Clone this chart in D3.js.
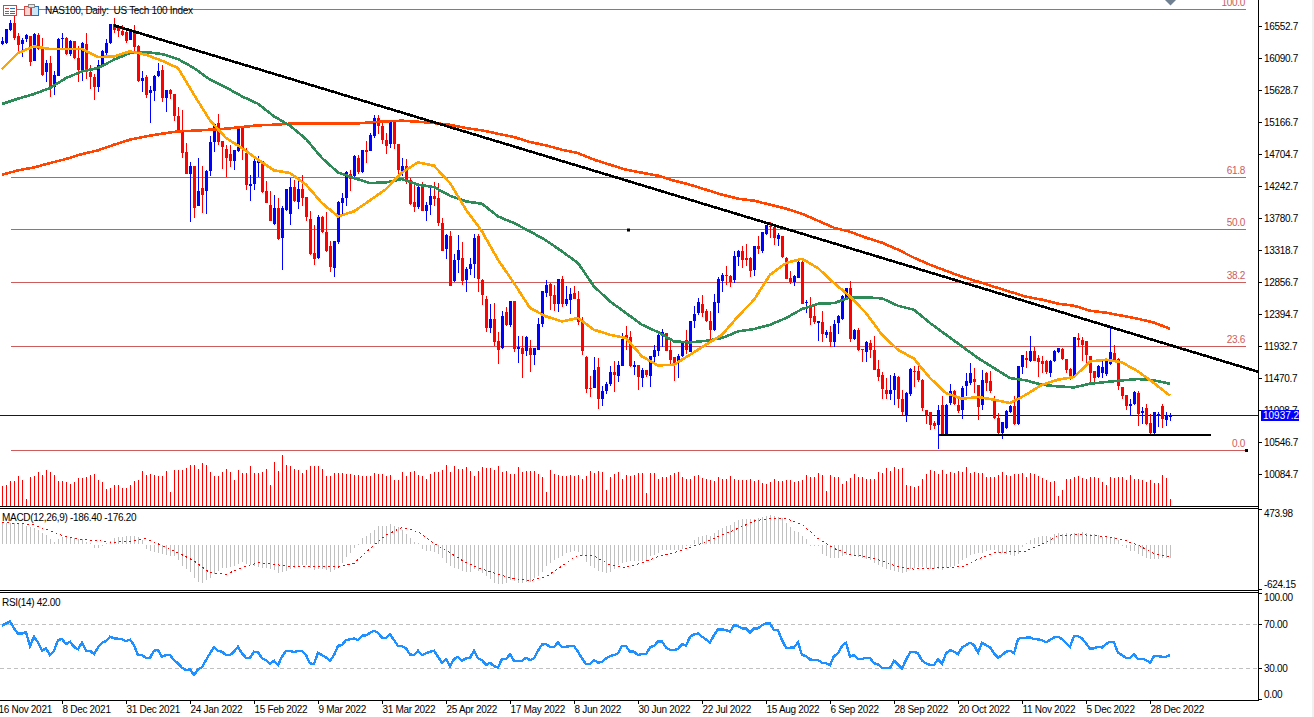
<!DOCTYPE html>
<html>
<head>
<meta charset="utf-8">
<title>NAS100, Daily</title>
<script src="https://cdn.jsdelivr.net/npm/d3@7"></script>
<style>
  html, body { margin: 0; padding: 0; background: #fff; overflow: hidden; }
  svg { display: block; }
  text { font-family: "Liberation Sans", Arial, sans-serif; font-size: 10px; letter-spacing: -0.3px; fill: #000; }
  .axis path { display: none; }
  .axis line { stroke: #000; }
  .line-mark { shape-rendering: crispEdges; fill: none; }
</style>
</head>
<body>
<div id="chart"></div>
<script>
// Daily candles, one entry per bar
const opens = [
  16293,16317,16510,16606,16423,16308,16366,16423,16053,16438,
  16245,15894,16029,15682,15846,16380,16390,16149,16341,16101,
  15932,16308,15894,15826,15682,16005,16173,16317,16597,16558,
  16495,16476,16366,16510,16269,15774,15826,15605,15634,15836,
  15923,15523,15634,15581,15268,15052,14744,14426,14537,13969,
  14224,14176,14474,14888,15162,14898,14792,14720,14619,14753,
  15090,14729,14262,14272,14585,14619,14185,13983,13704,13935,
  13502,13911,13853,14238,14031,14209,14089,13781,13285,13203,
  13800,13588,13391,13078,13444,14007,14070,14426,14392,14657,
  14455,14777,14768,14979,15234,15114,14921,14849,15172,14864,
  14479,14546,14344,14017,13949,14238,13896,13969,14113,14084,
  13718,13333,13536,12886,13189,13213,12900,13054,13126,13526,
  12891,12626,12207,12337,12010,11914,12429,12236,12587,11890,
  11914,11866,11914,11808,11890,12251,12708,12838,12674,12549,
  12915,12554,12611,12708,12626,12313,11784,11341,11336,11635,
  11167,11302,11384,11562,11514,11658,12106,12067,11649,11673,
  11490,11601,11514,11783,11880,12082,12130,11889,11779,11707,
  11793,12034,11865,12308,12409,12549,12443,12298,12168,12563,
  12886,12972,12958,12900,13237,13319,13213,13213,13030,13381,
  13309,13559,13670,13660,13478,13526,13213,12924,12866,12929,
  13155,12553,12525,12371,12265,12289,12106,12149,12000,12265,
  12332,12635,12780,12043,12178,11899,11851,11986,11889,11610,
  11528,11312,11254,11302,11490,11182,10951,11254,11587,11587,
  11447,11023,10990,10831,10807,11096,10677,11120,11298,11096,
  11023,11360,11408,11471,11384,11096,11553,11433,11168,10903,
  10687,10749,10990,11072,10817,11649,11769,11736,11875,11769,
  11731,11721,11563,11721,11851,11899,11760,11615,11505,12058,
  12034,12010,11803,11577,11495,11553,11538,11683,11842,11755,
  11351,11240,11086,11096,11264,10966,11048,10831,10687,10951,11072,10865,10918
];
const closes = [
  16341,16524,16606,16390,16293,16366,16428,16053,16447,16236,
  15860,16029,15682,15855,16380,16390,16163,16341,16101,15932,
  16317,15908,15826,15682,16005,16207,16317,16597,16510,16486,
  16438,16341,16510,16269,15764,15817,15571,15644,15846,15908,
  15514,15644,15571,15259,15052,14739,14426,14546,13926,14185,
  14128,14465,14888,15153,14883,14811,14667,14619,14777,15090,
  14801,14272,14286,14609,14633,14176,14017,13752,13935,13488,
  13935,14214,14238,14031,14214,14079,13800,13276,13203,13800,
  13584,13319,13093,13463,14017,14074,14450,14354,14681,14455,
  14777,14753,14994,15234,15114,14907,14840,15172,14849,14488,
  14546,14344,13997,13949,14238,13896,13983,14103,14070,13728,
  13319,13540,12814,13189,13333,12886,13054,13131,13502,12900,
  12674,12202,12337,12010,11880,12380,12236,12587,11890,11923,
  11832,12068,11808,11914,12265,12732,12828,12660,12539,12915,
  12554,12626,12698,12626,12299,11866,11326,11331,11601,11168,
  11288,11399,11562,11519,11673,12048,12048,11649,11673,11495,
  11601,11528,11803,11889,12106,12144,11875,11745,11697,11793,
  11986,11889,12308,12404,12573,12419,12298,12168,12573,12914,
  12972,12958,12876,13246,13319,13189,13189,13030,13381,13333,
  13583,13684,13656,13502,13540,13227,12914,12866,12958,13155,
  12553,12573,12356,12289,12298,12120,12149,12010,12265,12371,
  12669,12780,12043,12178,11889,11880,11995,11880,11601,11495,
  11322,11254,11312,11504,11177,10990,11264,11611,11577,11457,
  11038,10951,10807,10783,11023,10672,11096,11288,11105,11014,
  11336,11433,11553,11423,11072,11457,11408,11288,10903,10687,
  10850,11000,11072,10807,11659,11818,11736,11875,11736,11707,
  11688,11563,11731,11866,11914,11760,11601,11495,12068,12025,
  11962,11803,11563,11481,11649,11639,11721,11851,11745,11360,
  11216,11081,11110,11274,10966,11000,10821,10687,10985,10966,10879,10927,10937
];
const highs = [
  16404,16524,16645,16726,16462,16390,16452,16423,16462,16462,
  16390,16077,16135,15908,16390,16462,16404,16356,16341,16269,
  16327,16462,16005,15875,16077,16221,16375,16597,16678,16582,
  16582,16486,16520,16582,16293,15918,15860,15701,15860,16029,
  16005,15644,15658,15581,15393,15355,14874,14599,14537,14657,
  14537,14479,14970,15153,15292,14898,14850,14840,14777,15090,
  15090,14801,14416,14657,14691,14619,14320,14176,14128,14079,
  13959,14214,14368,14344,14320,14416,14089,13896,13685,13839,
  13815,13877,13463,13463,14041,14151,14474,14488,14705,14705,
  14777,14897,15018,15282,15273,15172,15018,15201,15201,14864,
  14657,14647,14368,14272,14262,14305,14017,14224,14310,14296,
  13791,13560,13598,13271,13550,13444,13078,13213,13560,13560,
  12910,12660,12554,12563,12145,12443,12506,12597,12597,12092,
  12092,12092,12034,11914,12347,12741,12900,12852,12828,12915,
  12958,12804,12780,12804,12741,12361,11793,11505,11779,11769,
  11370,11418,11658,11731,11731,12130,12236,12154,11731,11673,
  11625,11601,11803,11962,12130,12188,12130,12010,11783,11832,
  12010,12178,12308,12515,12635,12683,12481,12443,12693,12938,
  12996,13102,12972,13319,13333,13381,13420,13227,13391,13526,
  13583,13694,13733,13670,13574,13526,13222,13020,12972,13165,
  13165,12611,12645,12515,12298,12443,12178,12236,12313,12395,
  12683,12780,12886,12188,12202,11899,12010,12034,12082,11745,
  11562,11480,11528,11553,11504,11312,11274,11625,11659,11688,
  11466,11023,10990,10855,11096,11216,11105,11399,11312,11216,
  11360,11553,11697,11625,11384,11601,11563,11577,11216,10975,
  10850,11014,11096,11216,11659,11818,11875,12092,11928,11818,
  11793,11736,11745,11880,11914,11914,11760,11625,12068,12130,
  12068,12010,11803,11577,11673,11745,11745,12217,11962,11769,
  11351,11240,11177,11288,11288,11062,11110,10966,10995,10985,11110,10990,10975
];
const lows = [
  16284,16308,16486,16366,16173,16110,16341,15995,16053,16221,
  15846,15764,15547,15557,15836,16245,16149,16125,16077,15750,
  15764,15798,15658,15499,15620,15980,16149,16308,16462,16414,
  16423,16317,16356,16197,15754,15620,15523,15172,15490,15826,
  15475,15331,15514,15186,15052,14667,14426,13728,13791,13959,
  13863,13839,14392,14753,14850,14489,14392,14522,14489,14744,
  14633,14200,14041,14200,14392,14152,14007,13743,13695,13478,
  13035,13901,13695,14022,13911,13969,13742,13261,13107,13199,
  13574,13295,13021,12948,13420,13839,13969,14185,14382,14431,
  14440,14575,14753,14946,15003,14849,14719,14792,14777,14368,
  14402,14286,13983,13887,13920,13887,13742,13839,13959,13670,
  13309,13199,12804,12862,13006,12828,12717,12972,12924,12717,
  12530,12140,12130,11947,11687,11899,12226,12226,11866,11697,
  11490,11803,11577,11673,11880,12217,12660,12458,12458,12443,
  12506,12515,12409,12611,12251,11817,11254,11206,11326,11038,
  11081,11240,11374,11288,11432,11649,11889,11634,11528,11312,
  11350,11504,11360,11721,11793,11928,11865,11673,11442,11480,
  11783,11832,11856,12202,12395,12361,12289,12043,12159,12419,
  12722,12828,12794,12852,13107,13068,13107,12938,12958,13261,
  13285,13550,13502,13391,13391,13213,12900,12828,12813,12914,
  12544,12419,12241,12260,12010,11995,12058,11937,11923,12120,
  12323,12621,12010,12034,11865,11707,11711,11769,11591,11442,
  11167,11182,11167,11086,11038,10951,10841,11226,11360,11433,
  10999,10821,10735,10735,10456,10663,10672,11096,11096,10966,
  10889,11226,11384,11264,10879,11023,11288,11264,10889,10677,
  10605,10744,10975,10792,10807,11543,11625,11721,11731,11495,
  11553,11529,11505,11707,11842,11745,11553,11447,11495,11928,
  11721,11649,11418,11408,11481,11481,11519,11673,11721,11312,
  11177,11023,10946,11081,10783,10821,10812,10663,10677,10773,10759,10783,10855
];

// Moving averages, read every 4th bar
const maStep = 4;
const maFast = [
  15942,16173,16269,16231,16231,16231,16115,16125,16197,16149,16062,15956,15571,15201,14946,14801,14633,14479,14440,
  14272,14007,13815,13887,14046,14209,14450,14594,14546,14296,13911,13598,13189,12852,12491,12371,12299,12347,12178,
  12106,12058,11793,11663,11673,11817,11962,12106,12371,12611,12972,13141,13203,13068,12852,12659,12419,12106,11889,
  11760,11481,11264,11182,11206,11168,11120,11240,11384,11457,11495,11721,11745,11707,11577,11408,11226
];
const maMid = [
  15437,15514,15581,15668,15812,15908,15956,16077,16173,16187,16159,16086,15956,15788,15677,15547,15441,15259,15124,
  14931,14657,14450,14368,14296,14305,14354,14272,14238,14113,14031,13997,13815,13718,13598,13468,13309,13141,12804,
  12587,12419,12250,12144,12010,11995,12019,12058,12154,12188,12250,12347,12477,12553,12563,12645,12645,12631,12525,
  12467,12275,12106,11938,11769,11625,11481,11447,11384,11360,11346,11399,11423,11447,11466,11447,11399
];
const maSlow = [
  14416,14479,14522,14585,14643,14715,14768,14850,14922,14970,15008,15042,15052,15066,15081,15105,15129,15138,15153,
  15157,15153,15153,15153,15172,15186,15196,15181,15162,15138,15090,15056,15008,14960,14888,14840,14777,14729,14633,
  14561,14489,14445,14402,14330,14272,14200,14128,14070,14041,13983,13926,13853,13752,13651,13593,13507,13435,13334,
  13218,13117,13030,12944,12872,12799,12727,12655,12612,12554,12525,12453,12424,12381,12337,12280,12193
];

// Tick volume, same bars as the candles
const volumes = [
  61,64,76,74,89,79,22,86,91,102,94,107,102,94,74,76,71,65,71,85,
  84,88,94,97,77,71,52,54,64,62,53,54,64,76,79,106,94,97,94,89,
  89,106,41,107,109,107,114,123,123,112,130,122,103,89,91,102,112,102,79,107,
  99,99,121,99,99,102,111,64,133,106,152,124,121,111,109,99,109,121,121,121,
  111,89,89,99,99,99,96,96,94,94,91,91,91,99,96,96,91,94,79,79,
  101,91,101,106,94,89,82,97,103,101,109,124,102,121,112,112,118,106,91,106,
  118,115,115,109,121,103,106,97,97,118,103,106,106,106,97,88,43,109,97,94,
  91,91,94,91,94,82,91,106,100,106,103,49,88,97,103,82,94,91,94,100,
  100,40,100,100,82,88,88,94,100,103,88,82,82,91,94,85,82,79,76,88,
  82,82,91,82,79,79,79,82,76,79,70,67,73,82,76,76,79,79,73,76,
  79,94,88,88,100,94,46,94,88,88,67,76,85,97,88,88,82,82,82,103,
  100,115,106,118,112,115,64,61,58,61,82,97,109,106,97,109,97,103,100,106,
  103,118,100,103,100,100,88,88,88,94,103,94,91,97,97,100,88,100,97,91,
  85,79,73,76,31,49,82,82,88,91,85,82,88,88,85,73,64,88,85,88,
  88,79,94,82,82,79,73,79,70,70,94,85,22
];

// MACD(12,26,9) histogram per bar, signal every 4th bar
const macdHist = [
  287,287,287,287,278,268,241,223,209,187,150,118,64,27,64,86,96,82,73,68,
  59,27,14,-41,-50,-18,5,36,73,86,96,105,105,105,86,50,-64,-86,-96,-109,
  -132,-141,-155,-155,-214,-291,-337,-369,-460,-505,-519,-487,-450,-405,-359,-323,-314,-305,-291,-259,
  -232,-259,-278,-291,-305,-314,-323,-337,-350,-382,-369,-359,-328,-314,-305,-278,-278,-314,-350,-337,
  -337,-350,-369,-350,-323,-246,-168,-109,-41,0,73,105,150,187,241,241,246,268,241,223,
  187,132,82,27,5,-64,-86,-86,-96,-132,-187,-246,-291,-314,-337,-359,-369,-369,-337,-359,
  -382,-428,-464,-519,-541,-532,-519,-487,-496,-519,-519,-505,-505,-460,-428,-369,-291,-246,-214,-177,
  -155,-109,-96,-86,-96,-155,-232,-291,-314,-359,-369,-382,-369,-337,-278,-246,-232,-223,-223,-223,
  -223,-214,-155,-141,-109,-77,-77,-77,-77,-77,-64,-5,-5,50,96,105,118,105,141,187,
  209,241,255,300,323,332,337,332,337,355,369,378,391,378,369,346,287,223,177,164,
  105,59,-5,-5,-9,-132,-155,-187,-187,-177,-155,-141,-141,-141,-168,-177,-200,-214,-246,-278,
  -305,-337,-350,-359,-369,-391,-369,-337,-314,-305,-305,-314,-337,-337,-337,-350,-314,-305,-291,-268,
  -214,-177,-141,-132,-109,-109,-86,-77,-77,-109,-109,-132,-141,-155,-132,-32,14,50,82,96,
  105,105,96,127,150,127,141,132,141,141,159,141,132,127,118,96,96,86,86,50,
  -5,-50,-86,-86,-132,-155,-187,-200,-200,-200,-187,-187,-186.4
];
const macdSignal = [
  287,278,255,177,96,55,41,18,36,68,-23,-123,-232,-396,-419,-323,-259,-278,-314,-314,-305,-319,-268,-64,118,
  223,164,5,-123,-259,-346,-419,-473,-505,-450,-305,-155,-164,-291,-323,-259,-177,-123,-50,27,118,209,309,346,346,
  264,73,-64,-146,-177,-232,-314,-346,-337,-323,-314,-209,-123,-109,-100,-5,105,123,118,96,59,-18,-132,-176.2
];

// RSI(14) per bar
const rsi = [
  68.7,70.8,72.6,66.3,61.4,61.7,62.9,50.2,58.7,53.6,46,48.1,42,46,55.7,56.6,52,54.2,49.6,47.2,
  53.3,46,46,42.9,49,53.3,54.8,58.7,57.2,56.9,56.3,54.8,56,51.1,42,42,39.6,39.6,46,46.6,
  40.5,42,42,37.5,34.5,30.5,28.4,29,23.9,29,30.8,37.5,43.6,49,46,45.1,42,42,45.1,49.6,
  43.6,39.6,39.6,45.1,44.8,39,37.5,33.9,36.9,33,40.5,46,46,44.5,46,46,42,34.5,33.9,44.2,
  42,39.9,36.6,42,50.5,51.1,55.7,56.3,57.2,55.7,59.6,59.9,62.3,64.2,62.3,57.8,57.8,60.8,55.7,50.2,
  50.2,48.1,42.6,42,46,42,43.6,45.1,46,40.5,35.1,38.4,32,38.4,40.5,36.9,39,39.6,46,39,
  37.5,33,35.1,32,30.8,38.4,38.4,42.9,36.9,36.9,36.9,39.6,37.5,39,46,51.7,52,49.6,49.6,53.3,
  49.6,49.6,50.2,50.2,45.1,39,33.9,33.9,37.5,35.1,36,39,41.1,42,43.6,50.5,50.2,45.1,45.1,42,
  42.9,42.9,49,50.5,54.2,54.2,49,46.6,46.6,47.5,52,50.5,58.7,60.8,61.7,58.7,56.3,53.3,60.2,65.4,
  65.4,64.8,63.3,69.3,68.4,66.3,66.3,62.3,66.3,66.3,69.3,70.8,70.8,64.8,64.8,55.7,48.7,48.7,49,53.6,
  42,41.1,38.1,37.5,37.5,35.1,34.5,33,41.1,43.6,50.2,53.3,40.5,42,38.4,38.4,39.6,39.6,34.5,33.6,
  30.2,30.2,30.2,36.9,33.6,29.9,37.5,44.5,45.1,43.6,36.9,34.5,33,33,38.4,33.9,43.6,46.6,45.1,42.9,
  49,51.1,53.3,51.1,44.2,53.3,51.1,49,43.6,39.6,42,45.1,46,43.6,56.6,57.8,57.8,58.1,56.6,56.3,
  55.7,53.6,55.7,58.1,58.7,56.6,52.7,49.6,59.3,59.3,57.2,52.7,47.8,48.1,49.6,49,52,54.2,53.6,44.2,
  42,39.6,39.6,42.9,38.4,38.7,37.5,35.1,41.1,41.1,40.5,40.5,42
];

// Labels and levels
const priceTicks = [16552.7,16090.7,15628.7,15166.7,14704.7,14242.7,13780.7,13318.7,12856.7,12394.7,11932.7,11470.7,11008.7,10546.7,10084.7];
const dateLabels = ['16 Nov 2021','8 Dec 2021','31 Dec 2021','24 Jan 2022','15 Feb 2022','9 Mar 2022','31 Mar 2022','25 Apr 2022','17 May 2022','8 Jun 2022','30 Jun 2022','22 Jul 2022','15 Aug 2022','6 Sep 2022','28 Sep 2022','20 Oct 2022','11 Nov 2022','5 Dec 2022','28 Dec 2022'];
const fibLevels = [100, 61.8, 50, 38.2, 23.6, 0];
const fibHigh = 16809, fibLow = 10442;
const lastPrice = 10937.2;
const macdTicks = [473.98, -624.15];
const rsiTicks = [100, 70, 30, 0];
const rsiGuides = [70, 30];
// [bar, price] pairs of the hand drawn lines
const trendLine = [[28, 16572], [314, 11572]];
const supportLine = [[234.25, 10663], [302.25, 10663]];
const fibAnchors = [[156.5, 13625], [311, 10442]];

document.addEventListener('DOMContentLoaded', function() {
    const width = 1314, height = 717, plotRight = 1258;

    const svg = d3.select('#chart').append('svg')
        .attr('width', width)
        .attr('height', height);

    // Scales, one for bars and one for each pane
    const xBar = d3.scaleLinear().domain([0, 292]).range([2, 1170]);
    const yPrice = d3.scaleLinear().domain([16943, 10442]).range([-0.3, 450]);
    const yVolume = d3.scaleLinear().domain([0, 152]).range([506, 455.3]);
    const yMacd = d3.scaleLinear().domain([473.98, -624.15]).range([509, 589.5]);
    const yRsi = d3.scaleLinear().domain([100, 0]).range([591.3, 701.3]);

    // Clip marks to the plot area
    svg.append('clipPath').attr('id', 'plot-clip')
        .append('rect').attr('x', 0).attr('y', 0).attr('width', plotRight).attr('height', 700);
    const plot = svg.append('g').attr('clip-path', 'url(#plot-clip)');

    // Light window edge on the right
    svg.append('rect').attr('x', 1312).attr('y', 0).attr('width', 2).attr('height', height).attr('fill', '#f0f0f0');

    // Fibonacci levels
    const fibY = f => Math.round(yPrice(fibLow + (fibHigh - fibLow) * f / 100));
    plot.selectAll('.fib').data(fibLevels).enter().append('rect')
        .attr('class', 'fib')
        .attr('x', 11).attr('width', 1235)
        .attr('y', d => fibY(d)).attr('height', 1)
        .attr('fill', '#cd5c5c');
    plot.selectAll('.fib-label').data(fibLevels).enter().append('text')
        .attr('class', 'fib-label')
        .attr('x', 1245).attr('y', d => fibY(d) - 3)
        .attr('text-anchor', 'end')
        .style('fill', '#cd5c5c')
        .text(d => d.toFixed(1));
    plot.selectAll('.fib-anchor').data(fibAnchors).enter().append('rect')
        .attr('class', 'fib-anchor')
        .attr('x', d => xBar(d[0]) - 1).attr('y', d => yPrice(d[1]) - 1)
        .attr('width', 3).attr('height', 3)
        .attr('fill', '#000');

    // Last price line
    plot.append('rect')
        .attr('x', 0).attr('width', plotRight)
        .attr('y', Math.floor(yPrice(lastPrice))).attr('height', 1)
        .attr('fill', '#0000e0');

    // Candles
    const bars = d3.range(opens.length);
    const candleColor = i => closes[i] >= opens[i] ? '#0000ff' : '#ff0000';
    const candles = plot.append('g').attr('shape-rendering', 'crispEdges');
    candles.selectAll('.wick').data(bars).enter().append('rect')
        .attr('class', 'wick')
        .attr('x', i => xBar(i)).attr('width', 1)
        .attr('y', i => Math.round(yPrice(highs[i])))
        .attr('height', i => Math.max(1, Math.round(yPrice(lows[i]) - yPrice(highs[i]))))
        .attr('fill', candleColor);
    candles.selectAll('.body').data(bars).enter().append('rect')
        .attr('class', 'body')
        .attr('x', i => xBar(i) - 1).attr('width', 3)
        .attr('y', i => Math.round(yPrice(Math.max(opens[i], closes[i]))))
        .attr('height', i => Math.max(1, Math.round(Math.abs(yPrice(opens[i]) - yPrice(closes[i])))))
        .attr('fill', candleColor);

    // Moving averages and the drawn lines
    const maLine = d3.line().x((d, i) => xBar(i * maStep)).y(d => yPrice(d));
    const pointLine = d3.line().x(d => xBar(d[0])).y(d => yPrice(d[1]));
    [[maSlow, '#ff4500'], [maMid, '#2e8b57'], [maFast, '#ffa500']].forEach(([values, color]) => {
        plot.append('path').attr('class', 'line-mark').attr('d', maLine(values))
            .attr('stroke', color).attr('stroke-width', 2.6);
    });
    plot.append('path').attr('class', 'line-mark').attr('d', pointLine(trendLine))
        .attr('stroke', '#000').attr('stroke-width', 2.6);
    plot.append('path').attr('class', 'line-mark').attr('d', pointLine(supportLine))
        .attr('stroke', '#000').attr('stroke-width', 2);

    // Volume bars
    plot.append('g').attr('shape-rendering', 'crispEdges')
        .selectAll('rect').data(volumes).enter().append('rect')
        .attr('x', (d, i) => xBar(i)).attr('width', 1)
        .attr('y', d => Math.round(yVolume(d)))
        .attr('height', d => 506 - Math.round(yVolume(d)))
        .attr('fill', '#ff0000');

    // Marker at the top of the last bar
    plot.append('path')
        .attr('d', d3.line()([[xBar(292) - 5, 0], [xBar(292) + 6, 0], [xBar(292) + 0.5, 5.5]]))
        .attr('fill', '#708090');

    // MACD pane
    const macdZero = Math.round(yMacd(0));
    plot.append('g').attr('shape-rendering', 'crispEdges')
        .selectAll('rect').data(macdHist).enter().append('rect')
        .attr('x', (d, i) => xBar(i)).attr('width', 1)
        .attr('y', d => d >= 0 ? Math.round(yMacd(d)) : macdZero + 1)
        .attr('height', d => Math.max(1, Math.abs(Math.round(yMacd(d)) - macdZero)))
        .attr('fill', '#c0c0c0');
    plot.append('path').attr('class', 'line-mark')
        .attr('d', d3.line().x((d, i) => xBar(i * maStep)).y(d => yMacd(d))(macdSignal))
        .attr('stroke', '#ff0000').attr('stroke-width', 1)
        .attr('stroke-dasharray', '2,3');

    // RSI pane
    plot.selectAll('.rsi-guide').data(rsiGuides).enter().append('line')
        .attr('class', 'rsi-guide')
        .attr('x1', 0).attr('x2', plotRight)
        .attr('y1', d => Math.floor(yRsi(d)) + 0.5).attr('y2', d => Math.floor(yRsi(d)) + 0.5)
        .attr('stroke', '#c0c0c0').attr('stroke-dasharray', '4,3');
    plot.append('path').attr('class', 'line-mark')
        .attr('d', d3.line().x((d, i) => xBar(i)).y(d => yRsi(d))(rsi))
        .attr('stroke', '#1e90ff').attr('stroke-width', 2.4);

    // Pane borders
    const frame = svg.append('g').attr('shape-rendering', 'crispEdges');
    [506, 508, 590, 592, 700].forEach(y => {
        frame.append('rect').attr('x', 0).attr('y', y).attr('width', plotRight).attr('height', 1).attr('fill', '#000');
    });
    frame.append('rect').attr('x', plotRight).attr('y', 0).attr('width', 1).attr('height', 701).attr('fill', '#000');

    // Right hand axes. Ticks are snapped to whole pixels, pane end labels are pulled inside
    function rightAxis(scale, values, format, tickClamp, labelClamp) {
        const g = svg.append('g')
            .attr('class', 'axis')
            .attr('transform', `translate(${plotRight},0)`)
            .call(d3.axisRight(scale).tickValues(values).tickFormat(format).tickSize(4).tickPadding(2));
        g.selectAll('.tick').attr('transform', d => {
            const y = Math.max(tickClamp[0], Math.min(tickClamp[1], Math.floor(scale(d))));
            return `translate(0,${y + 0.5})`;
        });
        g.selectAll('.tick text').attr('y', d => {
            const y = Math.max(tickClamp[0], Math.min(tickClamp[1], Math.floor(scale(d))));
            const labelY = Math.max(labelClamp[0], Math.min(labelClamp[1], y));
            return labelY - y;
        });
        return g;
    }
    rightAxis(yPrice, priceTicks, d => d.toFixed(1), [0, 505], [0, 505]);
    rightAxis(yMacd, macdTicks, d => d.toFixed(2), [509, 589], [513, 584]);
    rightAxis(yRsi, rsiTicks, d => d.toFixed(2), [593, 699], [597, 694]);

    // Last price tag
    const tagY = Math.floor(yPrice(lastPrice));
    svg.append('rect').attr('x', 1261).attr('y', tagY - 5).attr('width', 38).attr('height', 11).attr('fill', '#0000ff');
    svg.append('text').attr('x', 1263).attr('y', tagY + 4)
        .style('fill', '#fff').style('letter-spacing', '0')
        .text(lastPrice.toFixed(1));

    // Date axis, a label every 16 bars
    const dateBars = dateLabels.map((d, i) => 16 * i - 1);
    const dateAxis = svg.append('g')
        .attr('class', 'axis date-axis')
        .attr('transform', 'translate(0,700)')
        .call(d3.axisBottom(xBar).tickValues(dateBars)
            .tickFormat((d, i) => dateLabels[i]).tickSize(4).tickPadding(2));
    dateAxis.selectAll('text').attr('text-anchor', 'start').attr('x', 0);

    // Pane captions
    svg.append('text').attr('x', 45).attr('y', 14).text('NAS100, Daily:  US Tech 100 Index').attr('xml:space', 'preserve');
    svg.append('text').attr('x', 2).attr('y', 521).text('MACD(12,26,9) -186.40 -176.20');
    svg.append('text').attr('x', 2).attr('y', 606).text('RSI(14) 42.00');

    // Chart window icons
    const icons = svg.append('g').attr('shape-rendering', 'crispEdges');
    icons.append('rect').attr('x', 3.5).attr('y', 5.5).attr('width', 13).attr('height', 10).attr('rx', 1).attr('fill', '#fff').attr('stroke', '#d9433f');
    [8, 10.5, 13].forEach(y => {
        icons.append('rect').attr('x', 5).attr('y', y).attr('width', 4).attr('height', 1).attr('fill', '#d9433f');
        icons.append('rect').attr('x', 10).attr('y', y).attr('width', 5).attr('height', 1).attr('fill', '#2a6fb0');
    });
    icons.append('rect').attr('x', 24.5).attr('y', 6.5).attr('width', 6).attr('height', 9).attr('fill', '#fbd5cf').attr('stroke', '#d9433f');
    icons.append('rect').attr('x', 31.5).attr('y', 6.5).attr('width', 7).attr('height', 9).attr('fill', '#cfe6f7').attr('stroke', '#2a6fb0');
    icons.append('rect').attr('x', 28.5).attr('y', 4.5).attr('width', 6).attr('height', 3).attr('fill', '#e6e6e6').attr('stroke', '#888');
});
</script>
</body>
</html>
